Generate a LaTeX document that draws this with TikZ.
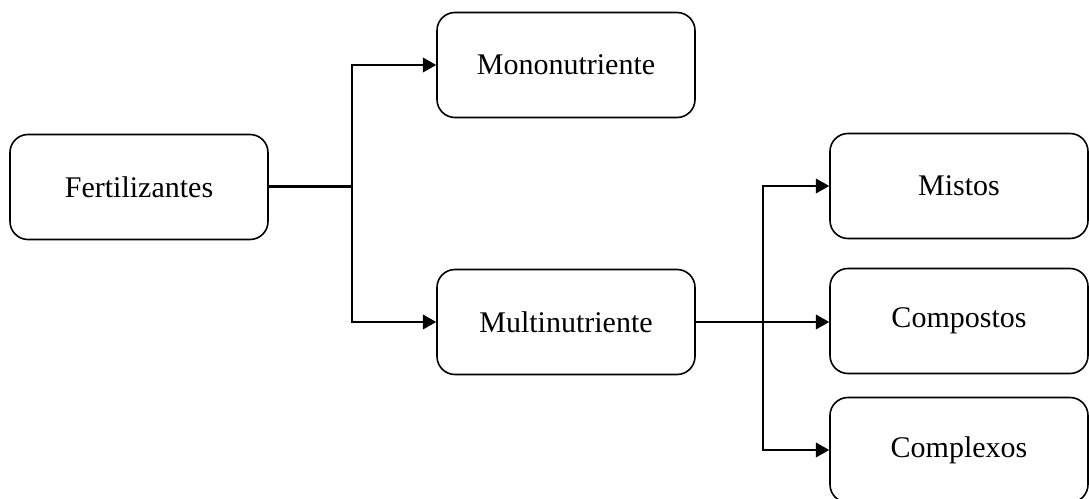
\documentclass[tikz,border=0pt]{standalone}
\usepackage{fontspec}
\setmainfont{Liberation Serif}
\usetikzlibrary{arrows.meta}
\begin{document}
\begin{tikzpicture}[x=0.75pt,y=-0.75pt,
  box/.style={draw,line width=1.6pt*0.75,rounded corners=13.5pt,minimum width=258*0.75pt,minimum height=105*0.75pt,inner sep=0pt,font=\fontsize{22.5pt}{26pt}\selectfont},
  link/.style={line width=1.6pt*0.75},
  arr/.style={link,-{Triangle[length=10pt,width=11pt]}}]
\useasboundingbox (0,0) rectangle (1089,499);
\node[box] (fert)  at (139,187) {Fertilizantes};
\node[box] (mono)  at (566,65)  {Mononutriente};
\node[box] (multi) at (566,322) {Multinutriente};
\node[box] (mist)  at (959,186) {Mistos};
\node[box] (comp)  at (959,321) {Compostos};
\node[box] (cplx)  at (959,450) {Complexos};
\coordinate (j1) at (352,187);
\coordinate (j2) at (763,322);
\draw[link,line width=3pt*0.75] (fert.east) -- (j1);
\draw[arr] (j1) |- (mono.west);
\draw[arr] (j1) |- (multi.west);
\draw[link] (multi.east) -- (j2);
\draw[arr] (j2) |- (mist.west);
\draw[arr] (j2) -- (comp.west |- j2);
\draw[arr] (j2) |- (cplx.west);
\end{tikzpicture}
\end{document}
